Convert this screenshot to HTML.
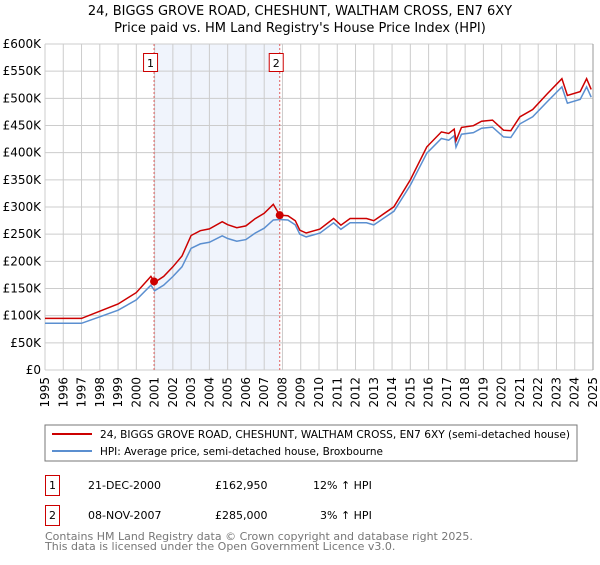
<!DOCTYPE html>
<html><head><meta charset="utf-8"><style>
body{margin:0;background:#fff;font-family:"Liberation Sans","DejaVu Sans",sans-serif;}
svg text{font-family:"DejaVu Sans","Liberation Sans",sans-serif;}
</style></head><body>
<svg id="c" width="600" height="560" xmlns="http://www.w3.org/2000/svg">
<text x="300" y="15" text-anchor="middle" font-size="13">24, BIGGS GROVE ROAD, CHESHUNT, WALTHAM CROSS, EN7 6XY</text>
<text x="300" y="32" text-anchor="middle" font-size="13">Price paid vs. HM Land Registry's House Price Index (HPI)</text>
<g id="plot"></g>
<rect x="45" y="425" width="532" height="36" fill="#fff" stroke="#777"/>
<line x1="52" y1="434" x2="92" y2="434" stroke="#cc0000" stroke-width="2"/>
<text x="100" y="438" font-size="11" textLength="470" lengthAdjust="spacingAndGlyphs">24, BIGGS GROVE ROAD, CHESHUNT, WALTHAM CROSS, EN7 6XY (semi-detached house)</text>
<line x1="52" y1="451" x2="92" y2="451" stroke="#5b8fd0" stroke-width="2"/>
<text x="100" y="455" font-size="11" textLength="283" lengthAdjust="spacingAndGlyphs">HPI: Average price, semi-detached house, Broxbourne</text>
<g font-size="11">
<rect x="45.5" y="475.5" width="14" height="20" fill="#fff" stroke="#cc0000"/>
<text x="52.5" y="489" text-anchor="middle">1</text>
<text x="88" y="489">21-DEC-2000</text><text x="215" y="489">£162,950</text><text x="313" y="489">12% ↑ HPI</text>
<rect x="45.5" y="505.5" width="14" height="20" fill="#fff" stroke="#cc0000"/>
<text x="52.5" y="519" text-anchor="middle">2</text>
<text x="88" y="519">08-NOV-2007</text><text x="215" y="519">£285,000</text><text x="320" y="519">3% ↑ HPI</text>
</g>
<text x="45" y="540" font-size="11" fill="#777">Contains HM Land Registry data © Crown copyright and database right 2025.</text>
<text x="45" y="550" font-size="11" fill="#777">This data is licensed under the Open Government Licence v3.0.</text>
</svg>
<script>
const hpiYears=[1995,1996,1997,1998,1999,2000,2000.8,2001.0,2001.5,2002,2002.5,2003,2003.5,2004,2004.7,2005,2005.5,2006,2006.5,2007,2007.5,2007.85,2008.3,2008.7,2008.95,2009.3,2010.05,2010.8,2011.2,2011.7,2012.6,2013.0,2014.1,2015.0,2015.9,2016.7,2017.1,2017.4,2017.5,2017.8,2018.45,2018.9,2019.5,2020.1,2020.5,2021.0,2021.7,2022.5,2023.3,2023.6,2024.3,2024.65,2024.9];
const hpiValues=[86000,86000,86000,98000,110000,129000,156000,146000,156000,172000,190000,224000,232000,235000,247000,242000,237000,240000,252000,261000,276000,277000,276000,267000,250000,245000,252000,271000,259000,271000,271000,267000,292000,340000,399000,426000,423000,431000,410000,434000,437000,445000,447000,429000,428000,453000,466000,494000,521000,491000,498000,521000,502000];
const saleYears=[2000.97,2007.85];
const salePrices=[162950,285000];
const saleLabels=["1","2"];
const yTicks=[0,50000,100000,150000,200000,250000,300000,350000,400000,450000,500000,550000,600000];
const yTickLabels=["£0","£50K","£100K","£150K","£200K","£250K","£300K","£350K","£400K","£450K","£500K","£550K","£600K"];
const xTicks=[1995,1996,1997,1998,1999,2000,2001,2002,2003,2004,2005,2006,2007,2008,2009,2010,2011,2012,2013,2014,2015,2016,2017,2018,2019,2020,2021,2022,2023,2024,2025];
const X=y=>45+(y-1995)*(548/30), Y=v=>370-v*(326/600000);
const NS="http://www.w3.org/2000/svg", g=document.getElementById('plot');
function mk(t,a){const e=document.createElementNS(NS,t);for(const k in a)e.setAttribute(k,a[k]);g.appendChild(e);return e;}
function hpiAt(t){for(let i=0;i<hpiYears.length-1;i++){if(t<=hpiYears[i+1]){const f=(t-hpiYears[i])/(hpiYears[i+1]-hpiYears[i]);return hpiValues[i]+f*(hpiValues[i+1]-hpiValues[i]);}}return hpiValues[hpiValues.length-1];}
let e=mk('rect',{x:X(saleYears[0]),y:Y(600000),width:X(saleYears[1])-X(saleYears[0]),height:Y(0)-Y(600000),fill:'#f0f4fc'});

yTicks.forEach((v,i)=>{let l=mk('line',{x1:45,x2:593,y1:Y(v),y2:Y(v),stroke:'#ccc'});
let t=mk('text',{x:41,y:Y(v)+4,'text-anchor':'end','font-size':12});t.textContent=yTickLabels[i];});
xTicks.forEach(yr=>{let l=mk('line',{x1:X(yr),x2:X(yr),y1:Y(600000),y2:Y(0),stroke:'#ccc'});
let t=mk('text',{x:0,y:0,'text-anchor':'end','font-size':12,transform:`translate(${X(yr)+4},377) rotate(-90)`});t.textContent=yr;});
const bp=hpiYears.map((t,i)=>X(t).toFixed(1)+','+Y(hpiValues[i]).toFixed(1)).join(' ');
e=mk('polyline',{points:bp,fill:'none',stroke:'#5b8fd0','stroke-width':1.5});
const r1=salePrices[0]/hpiAt(saleYears[0]), r2=salePrices[1]/hpiAt(saleYears[1]);
const rp=hpiYears.map((t,i)=>{const r=t<saleYears[1]?r1:r2;return X(t).toFixed(1)+','+Y(hpiValues[i]*r).toFixed(1);}).join(' ');
e=mk('polyline',{points:rp,fill:'none',stroke:'#cc0000','stroke-width':1.5});
saleYears.forEach((t,i)=>{let l=mk('line',{x1:X(t),x2:X(t),y1:Y(600000),y2:Y(0),stroke:'#e06060','stroke-dasharray':'2,2'});
let c=mk('circle',{cx:X(t),cy:Y(salePrices[i]),r:4,fill:'#cc0000'});
let b=mk('rect',{x:X(t)-10.5,y:53.5,width:14,height:18,fill:'#fff',stroke:'#cc0000'});
let tx=mk('text',{x:X(t)-3.5,y:67,'text-anchor':'middle','font-size':11});tx.textContent=saleLabels[i];});
e=mk('line',{x1:593,x2:593,y1:Y(600000),y2:Y(0),stroke:'#999'});
</script>
</body></html>
